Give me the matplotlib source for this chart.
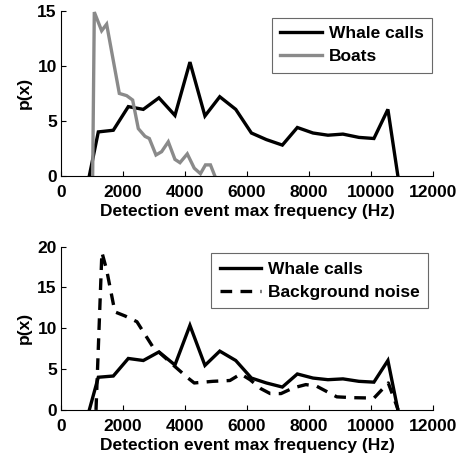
import matplotlib
matplotlib.use("Agg")
import matplotlib.pyplot as plt

# Whale call detections (shared by both panels)
whale_freq = [914, 1204, 1688, 2172, 2656, 3161, 3677, 4161, 4645, 5123, 5639,
              6144, 6627, 7143, 7626, 8131, 8614, 9098, 9613, 10097, 10548, 10870]
whale_p = [0, 4.0, 4.15, 6.3, 6.05, 7.1, 5.5, 10.35, 5.45, 7.2, 6.05,
           3.9, 3.3, 2.8, 4.4, 3.9, 3.7, 3.8, 3.5, 3.4, 6.05, 0]

# Boat detections
boat_freq = [1022, 1075, 1312, 1473, 1882, 2118, 2312, 2495, 2710, 2850, 3065,
             3247, 3462, 3677, 3839, 4075, 4300, 4500, 4662, 4823, 4963]
boat_p = [0, 14.9, 13.2, 13.8, 7.5, 7.3, 6.9, 4.3, 3.6, 3.4, 1.9,
          2.2, 3.1, 1.5, 1.2, 2.0, 0.7, 0.2, 1.0, 1.0, 0]

# Background noise detections
noise_freq = [1130, 1320, 1470, 1740, 2070, 2450, 2950, 3300, 3650, 4100, 4300,
              4900, 5450, 5800, 6100, 6450, 6750, 7100, 7500, 7900, 8250, 8600,
              8900, 9400, 10100, 10560, 10880]
noise_p = [0, 19.3, 17.2, 12.0, 11.5, 10.8, 7.8, 6.6, 5.4, 3.9, 3.3,
           3.5, 3.6, 4.4, 3.7, 2.6, 2.0, 2.0, 2.7, 3.1, 2.9, 2.2,
           1.6, 1.5, 1.45, 3.3, 0]

x_ticks = [0, 2000, 4000, 6000, 8000, 10000, 12000]
top_yticks = [0, 5, 10, 15]
bottom_yticks = [0, 5, 10, 15, 20]
xlabel = "Detection event max frequency (Hz)"

plt.rcParams['font.family'] = ['Liberation Sans', 'DejaVu Sans']
plt.rcParams['font.weight'] = 'bold'
FS = 12.5

fig = plt.figure(figsize=(4.62, 4.58), dpi=100)
ax1 = fig.add_axes([0.132, 0.616, 0.805, 0.360])
ax2 = fig.add_axes([0.132, 0.105, 0.805, 0.3566])


def style(ax, yticks, ymax):
    ax.set_xlim(0, 12000)
    ax.set_ylim(0, ymax)
    ax.set_xticks(x_ticks)
    ax.set_yticks(yticks)
    ax.spines['top'].set_visible(False)
    ax.spines['right'].set_visible(False)
    for s in ('left', 'bottom'):
        ax.spines[s].set_linewidth(0.8)
    ax.tick_params(direction='in', length=3.5, width=0.8, labelsize=FS)
    ax.tick_params(axis='x', pad=6.5)
    ax.tick_params(axis='y', pad=3)
    for lab in ax.get_xticklabels() + ax.get_yticklabels():
        lab.set_fontweight('bold')
    ax.set_xlabel(xlabel, fontsize=FS, fontweight='bold', labelpad=3.2)
    ax.set_ylabel("p(x)", fontsize=FS, fontweight='bold', labelpad=4)


def add_legend(ax, anchor):
    leg = ax.legend(loc='upper right', bbox_to_anchor=anchor,
                    prop={'weight': 'bold', 'size': FS}, frameon=True,
                    fancybox=False, handlelength=2.4, handletextpad=0.38,
                    borderpad=0.5, labelspacing=0.45, borderaxespad=0)
    leg.get_frame().set_edgecolor('#444444')
    leg.get_frame().set_linewidth(0.8)
    return leg


ax1.plot(whale_freq, whale_p, color='black', lw=2.4, label='Whale calls',
         solid_joinstyle='miter')
ax1.plot(boat_freq, boat_p, color='#8a8a8a', lw=2.4, label='Boats',
         solid_joinstyle='miter')
style(ax1, top_yticks, 15)
add_legend(ax1, (0.998, 0.96))

ax2.plot(whale_freq, whale_p, color='black', lw=2.4, label='Whale calls',
         solid_joinstyle='miter')
ax2.plot(noise_freq, noise_p, color='black', lw=2.4, ls=(0, (3.5, 2.5)),
         label='Background noise')
style(ax2, bottom_yticks, 20)
add_legend(ax2, (0.988, 0.962))

fig.savefig("out.png", dpi=100)
